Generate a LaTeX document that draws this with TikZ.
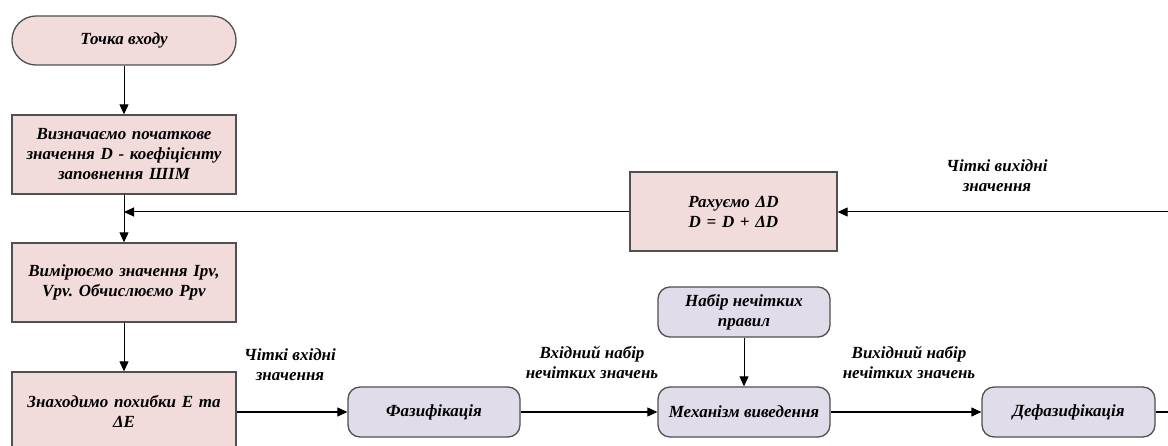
\documentclass[tikz,border=0pt]{standalone}
\usepackage{fontspec}
\setmainfont{Liberation Serif}
\frenchspacing
\usetikzlibrary{arrows.meta}
\definecolor{stepfill}{HTML}{F2DCDB}
\definecolor{fuzzyfill}{HTML}{E0DCEA}
\definecolor{edgegray}{HTML}{505050}
\tikzset{
  txt/.style={font=\fontsize{17}{20}\selectfont\bfseries\itshape, align=center, text=black},
  stepbox/.style={txt, rectangle, draw=edgegray, line width=1.3pt, fill=stepfill,
    minimum width=224pt, minimum height=79pt, inner sep=2pt, text width=218pt},
  termbox/.style={txt, rectangle, rounded corners=24pt, draw=edgegray, line width=1.3pt,
    fill=stepfill, minimum width=224pt, minimum height=49pt},
  fuzzybox/.style={txt, rectangle, rounded corners=12pt, draw=edgegray, line width=1.3pt,
    fill=fuzzyfill, minimum width=172pt, minimum height=50pt, inner sep=2pt},
  flow/.style={draw=black, line width=1pt, -{Triangle[length=10pt,width=9pt]}},
  plain/.style={draw=black, line width=1pt},
  lbl/.style={txt, inner sep=0pt}
}
\begin{document}
\begin{tikzpicture}[x=1pt,y=-1pt]
\useasboundingbox (0,0) rectangle (1168,446);
\clip (0,0) rectangle (1168,446);

% main sequence on the left
\node[termbox] (start) at (124,40.5) {Точка входу};
\node[stepbox] (init) at (124,154.5) {Визначаємо початкове\\значення D - коефіцієнту\\заповнення ШІМ};
\node[stepbox] (meas) at (124,282.5) {Вимірюємо значення Ipv,\\Vpv. Обчислюємо Ppv};
\node[stepbox] (err) at (124,411.5) {Знаходимо похибки E та\\ΔE};

% fuzzy controller chain
\node[fuzzybox] (fuzz) at (434,412) {Фазифікація};
\node[fuzzybox] (infer) at (744,412) {Механізм виведення};
\node[fuzzybox] (rules) at (744,312) {Набір нечітких\\правил};
\node[fuzzybox, minimum width=173pt] (defuzz) at (1068.5,412) {Дефазифікація};

% duty cycle update
\node[stepbox, minimum width=207pt, text width=197pt] (calc) at (733.5,211.5) {Рахуємо ΔD\\D = D + ΔD};

% connector ends at the right border
\coordinate (outR) at (1168,412);
\coordinate (inR) at (1168,212);
\coordinate (merge) at (124,212);

% connectors
\draw[flow] (start) -- (init);
\draw[flow] (init) -- (meas);
\draw[flow] (meas) -- (err);
\draw[flow] (err.east |- fuzz.west) -- (fuzz.west);
\draw[flow] (fuzz) -- (infer);
\draw[flow] (rules) -- (infer);
\draw[flow] (infer) -- (defuzz);
\draw[plain] (defuzz.east) -- (outR);
\draw[flow] (inR) -- (calc.east |- inR);
\draw[flow] (calc.west |- merge) -- (merge);

% edge labels
\node[lbl] (l1) at (290,365) {Чіткі вхідні\\значення};
\node[lbl] (l2) at (592,362) {Вхідний набір\\нечітких значень};
\node[lbl] (l3) at (909,362) {Вихідний набір\\нечітких значень};
\node[lbl] (l4) at (997,176) {Чіткі вихідні\\значення};
\end{tikzpicture}
\end{document}
